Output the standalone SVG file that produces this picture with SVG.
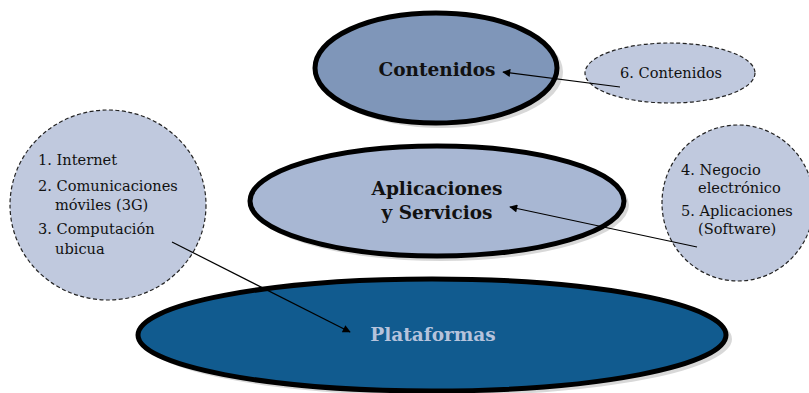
<svg xmlns="http://www.w3.org/2000/svg" width="809" height="393" viewBox="0 0 809 393">
<defs>
<style>
.main{stroke:#000;stroke-width:5}
.shadow{fill:#c8c8c8;opacity:0.7}
.bubble{fill:#c0c9de;stroke:#222;stroke-width:1.2;stroke-dasharray:4 2.5}
.t{font-family:"DejaVu Serif","Liberation Serif",serif;font-size:14.6px;fill:#111}
.b{font-family:"DejaVu Serif","Liberation Serif",serif;font-weight:bold;font-size:18.5px;fill:#111;text-anchor:middle}
.conn{stroke:#000;stroke-width:1.2;fill:none;marker-end:url(#ah)}
</style>
<marker id="ah" viewBox="0 0 10 10" refX="9" refY="5" markerWidth="10" markerHeight="8" markerUnits="userSpaceOnUse" orient="auto">
<path d="M0,0 L10,5 L0,10 z" fill="#000"/>
</marker>
</defs>
<g id="plataformas">
<ellipse class="shadow" cx="437" cy="339" rx="295" ry="57"/>
<ellipse class="main" cx="432" cy="335" rx="294" ry="56" fill="#115b8f"/>
<text class="b" x="433" y="341" style="fill:#b6c3dc">Plataformas</text>
</g>
<g id="aplicaciones">
<ellipse class="shadow" cx="441" cy="205" rx="188" ry="56"/>
<ellipse class="main" cx="437" cy="201" rx="187" ry="55" fill="#a8b7d3"/>
<text class="b" x="437" y="195">Aplicaciones</text>
<text class="b" x="437" y="219">y Servicios</text>
</g>
<g id="contenidos">
<ellipse class="shadow" cx="441" cy="72" rx="122" ry="56"/>
<ellipse class="main" cx="436" cy="68" rx="121" ry="55" fill="#7f96b9"/>
<text class="b" x="437" y="76">Contenidos</text>
</g>
<g id="bubble-left">
<ellipse class="bubble" cx="108" cy="205" rx="98" ry="95"/>
<text class="t" x="38" y="165">1. Internet</text>
<text class="t" x="38" y="191">2. Comunicaciones</text>
<text class="t" x="55" y="210">móviles (3G)</text>
<text class="t" x="38" y="234">3. Computación</text>
<text class="t" x="55" y="254">ubicua</text>
</g>
<g id="bubble-right">
<ellipse class="bubble" cx="738" cy="203" rx="76" ry="78"/>
<text class="t" x="681" y="175">4. Negocio</text>
<text class="t" x="698" y="193">electrónico</text>
<text class="t" x="681" y="216">5. Aplicaciones</text>
<text class="t" x="698" y="234">(Software)</text>
</g>
<g id="bubble-top">
<ellipse class="bubble" cx="670" cy="73" rx="85" ry="30"/>
<text class="t" x="671" y="78" text-anchor="middle">6. Contenidos</text>
</g>
<g id="connectors">
<line class="conn" x1="620" y1="87" x2="503" y2="72"/>
<line class="conn" x1="697" y1="247" x2="510" y2="207"/>
<line class="conn" x1="172" y1="242" x2="350" y2="332"/>
</g>
</svg>
